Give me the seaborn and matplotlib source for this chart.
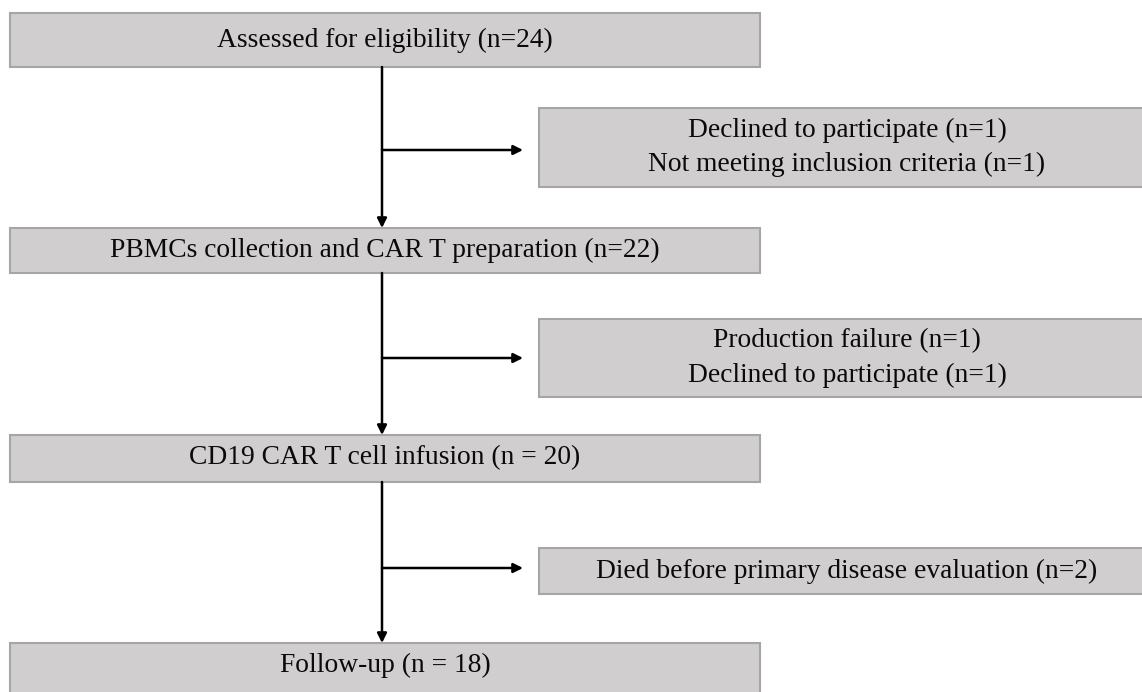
import matplotlib
matplotlib.use("Agg")
import matplotlib.pyplot as plt
from matplotlib.patches import Rectangle
import seaborn as sns

# ---- data ----
main_steps = [
    "Assessed for eligibility (n=24)",
    "PBMCs collection and CAR T preparation (n=22)",
    "CD19 CAR T cell infusion (n = 20)",
    "Follow-up (n = 18)",
]
exclusions = [
    "Declined to participate (n=1)\nNot meeting inclusion criteria (n=1)",
    "Production failure (n=1)\nDeclined to participate (n=1)",
    "Died before primary disease evaluation (n=2)",
]

# ---- layout (pixel coordinates) ----
W, H = 1142, 692
main_x0, main_x1 = 10, 760
main_boxes = [(13, 67), (228, 273), (435, 482), (643, 700)]
main_text_y = [40, 250, 458, 665]
side_x0, side_x1 = 539, 1155
side_boxes = [(108, 187), (319, 397), (548, 594)]
side_text_x = 847
branch_y = [150, 358, 568]
trunk_x = 382
arrow_tip_x = 523

fill = "#d0cece"
edge = "#a5a5a5"

sns.set_theme(style="white")
plt.rcParams["font.family"] = ["Liberation Serif", "DejaVu Serif"]

fig = plt.figure(figsize=(W / 100, H / 100), dpi=100)
ax = fig.add_axes([0, 0, 1, 1])
ax.set_xlim(0, W)
ax.set_ylim(H, 0)
ax.axis("off")

fs = 19.8
for (y0, y1), ty, label in zip(main_boxes, main_text_y, main_steps):
    ax.add_patch(Rectangle((main_x0, y0), main_x1 - main_x0, y1 - y0,
                           facecolor=fill, edgecolor=edge, linewidth=1.5))
    ax.text((main_x0 + main_x1) / 2, ty, label, ha="center", va="center",
            fontsize=fs, color="#0a0a0a")

for (y0, y1), label in zip(side_boxes, exclusions):
    ax.add_patch(Rectangle((side_x0, y0), side_x1 - side_x0, y1 - y0,
                           facecolor=fill, edgecolor=edge, linewidth=1.5))
    ax.text(side_text_x, (y0 + y1) / 2, label, ha="center",
            va="center", fontsize=fs, color="#0a0a0a", linespacing=1.5)

# vertical arrows
for i in range(len(main_boxes) - 1):
    y_start = main_boxes[i][1]
    y_end = main_boxes[i + 1][0]
    ax.annotate("", xy=(trunk_x, y_end), xytext=(trunk_x, y_start),
                arrowprops=dict(arrowstyle="-|>", color="black", lw=1.8,
                                mutation_scale=14, shrinkA=0, shrinkB=0))

# horizontal branches
for by in branch_y:
    ax.annotate("", xy=(arrow_tip_x, by), xytext=(trunk_x, by),
                arrowprops=dict(arrowstyle="-|>", color="black", lw=1.8,
                                mutation_scale=14, shrinkA=0, shrinkB=0))

fig.savefig("out.png", dpi=100, facecolor="white")
